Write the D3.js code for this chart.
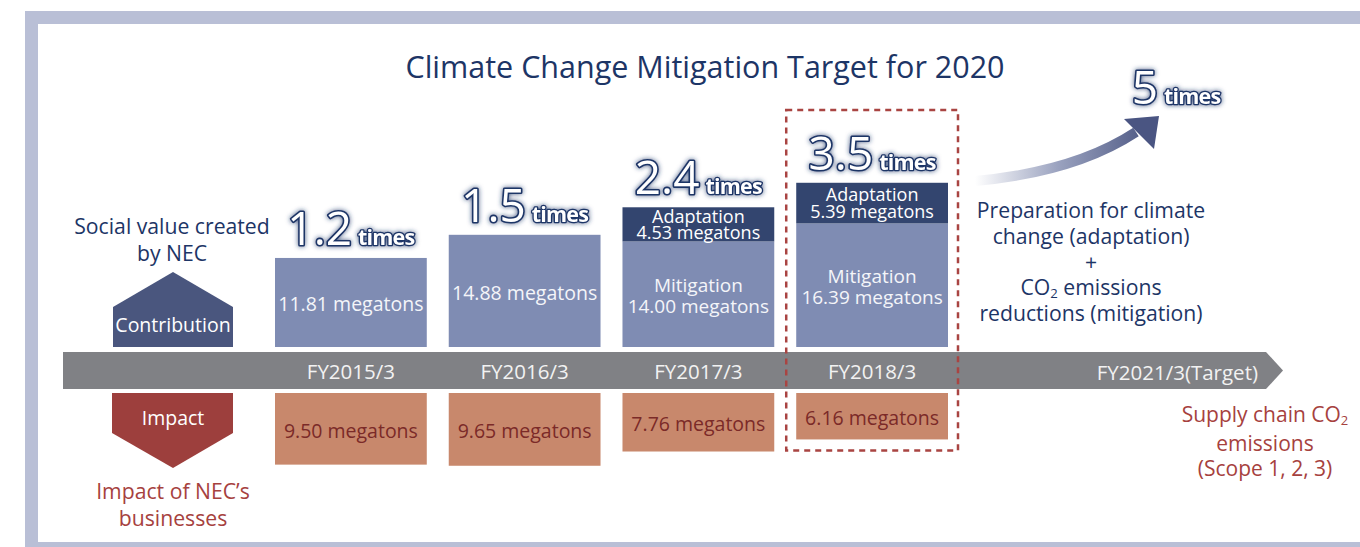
<!DOCTYPE html>
<html>
<head>
<meta charset="utf-8">
<script src="https://cdn.jsdelivr.net/npm/d3@7"></script>
<style>
  body { margin: 0; background: #fff; }
  svg { display: block; font-family: "Open Sans", sans-serif; }
</style>
</head>
<body>
<svg id="chart" width="1360" height="547"></svg>
<script>
// data (megatons)
var periods = ["FY2015/3", "FY2016/3", "FY2017/3", "FY2018/3"];
var mitigation = [11.81, 14.88, 14.00, 16.39];
var adaptation = [0, 0, 4.53, 5.39];
var impact = [9.50, 9.65, 7.76, 6.16];
var targetPeriod = "FY2021/3(Target)";
var targetTimes = 5;

var navy = "#1d3566", red = "#a6413e";

var svg = d3.select("#chart");
var defs = svg.append("defs");

// glow used behind the "x times" figures
var glow = defs.append("filter").attr("id", "glow")
    .attr("x", "-20%").attr("y", "-40%").attr("width", "140%").attr("height", "180%");
glow.append("feGaussianBlur").attr("in", "SourceAlpha").attr("stdDeviation", 2.4).attr("result", "b");
glow.append("feFlood").attr("flood-color", "#1d3466").attr("flood-opacity", 0.8);
glow.append("feComposite").attr("in2", "b").attr("operator", "in").attr("result", "g");
var merge = glow.append("feMerge");
merge.append("feMergeNode").attr("in", "g");
merge.append("feMergeNode").attr("in", "SourceGraphic");

var grad = defs.append("linearGradient").attr("id", "arrowGrad")
    .attr("gradientUnits", "userSpaceOnUse")
    .attr("x1", 975).attr("y1", 0).attr("x2", 1160).attr("y2", 0);
grad.append("stop").attr("offset", 0).attr("stop-color", "#ffffff");
grad.append("stop").attr("offset", 0.45).attr("stop-color", "#9aa2bf");
grad.append("stop").attr("offset", 1).attr("stop-color", "#45507d");

// frame
svg.append("rect").attr("x", 25).attr("y", 11).attr("width", 1400).attr("height", 600).attr("fill", "#b9bfd6");
svg.append("rect").attr("x", 38).attr("y", 24).attr("width", 1400).attr("height", 518).attr("fill", "#fff");

// scales
var x = d3.scaleBand().domain(periods).range([275, 948]).paddingInner(22 / 174).paddingOuter(0);
var y = d3.scaleLinear().domain([0, 20]).range([347, 347 - 20 * 7.54]);
var yi = d3.scaleLinear().domain([0, 10]).range([393, 393 + 10 * 7.54]);

function lines(g, cx, y0, arr, size, lh, color, weight) {
  var t = g.append("text").attr("x", cx).attr("y", y0)
      .attr("text-anchor", "middle").attr("font-size", size).attr("fill", color);
  if (weight) t.attr("font-weight", weight);
  arr.forEach(function(s, i) {
    var parts = s.split("₂");
    t.append("tspan").attr("x", cx).attr("dy", i ? lh : 0).text(parts[0]);
    if (parts.length > 1) {
      t.append("tspan").attr("font-size", size * 0.62).attr("dy", 3).text("2");
      t.append("tspan").attr("dy", -3).text(parts[1]);
    }
  });
  return t;
}
function centered(g, cx, cy, arr, size, lh, color) {
  return lines(g, cx, cy - (arr.length - 1) * lh / 2 + size * 0.36, arr, size, lh, color);
}

// title
svg.append("text").attr("x", 705).attr("y", 78).attr("text-anchor", "middle")
    .attr("font-size", 30.5).attr("fill", navy).text("Climate Change Mitigation Target for 2020");

// timeline band
svg.append("path").attr("fill", "#808185")
    .attr("d", "M63,352 L1266,352 L1283,370.5 L1266,389 L63,389 Z");

// contribution bars
var fmt = d3.format(".2f");
var g = svg.append("g");
periods.forEach(function(p, i) {
  var bx = x(p), bw = x.bandwidth();
  var tot = mitigation[i] + adaptation[i];
  g.append("rect").attr("x", bx).attr("y", y(mitigation[i])).attr("width", bw)
      .attr("height", y(0) - y(mitigation[i])).attr("fill", "#7f8cb3");
  if (adaptation[i] > 0) {
    g.append("rect").attr("x", bx).attr("y", y(tot)).attr("width", bw)
        .attr("height", y(mitigation[i]) - y(tot)).attr("fill", "#33456f");
    centered(g, bx + bw / 2, (y(tot) + y(mitigation[i])) / 2,
        ["Adaptation", fmt(adaptation[i]) + " megatons"], 18, 16.5, "#fff");
    centered(g, bx + bw / 2, (y(mitigation[i]) + y(0)) / 2 + 1.5,
        ["Mitigation", fmt(mitigation[i]) + " megatons"], 19, 21.5, "#f4f5f9");
  } else {
    centered(g, bx + bw / 2, (y(mitigation[i]) + y(0)) / 2 + 2,
        [fmt(mitigation[i]) + " megatons"], 19.5, 0, "#f4f5f9");
  }
  // impact bars
  g.append("rect").attr("x", bx).attr("y", yi(0)).attr("width", bw)
      .attr("height", yi(impact[i]) - yi(0)).attr("fill", "#c8886c");
  centered(g, bx + bw / 2, (yi(0) + yi(impact[i])) / 2 + 2,
      [fmt(impact[i]) + " megatons"], 19.5, 0, "#7b2a28");
  // period label
  g.append("text").attr("x", bx + bw / 2).attr("y", 379).attr("text-anchor", "middle")
      .attr("font-size", 20.5).attr("fill", "#f2f2f2").text(p);
  // x times
  timesLabel(bx + bw / 2, y(tot) - 13, d3.format(".1f")(tot / impact[i]));
});

svg.append("text").attr("x", 1258).attr("y", 380).attr("text-anchor", "end")
    .attr("font-size", 20.5).attr("fill", "#f2f2f2").text(targetPeriod);

function timesLabel(cx, by, num) {
  var t = svg.append("text").attr("x", cx).attr("y", by).attr("text-anchor", "middle")
      .attr("fill", "#fff").attr("stroke", "#1d3466").attr("paint-order", "stroke")
      .attr("stroke-linejoin", "round").attr("filter", "url(#glow)");
  t.append("tspan").attr("font-size", 46).attr("stroke-width", 3.2).text(num);
  t.append("tspan").attr("dx", 6).attr("font-size", 21.5).attr("font-weight", 700)
      .attr("letter-spacing", -0.8).attr("stroke-width", 2.6).text("times");
}

// highlight box around latest year
var hx = x(periods[3]);
svg.append("rect").attr("x", hx - 10).attr("y", 110)
    .attr("width", x.bandwidth() + 20).attr("height", yi(impact[3]) + 11 - 110)
    .attr("fill", "none").attr("stroke", "#a94442").attr("stroke-width", 2.5)
    .attr("stroke-dasharray", "6,5");

// growth arrow to target
svg.append("path").attr("fill", "none").attr("stroke", "url(#arrowGrad)").attr("stroke-width", 10)
    .attr("d", "M975,181 Q1075,172 1136,132");
svg.append("path").attr("fill", "#4a5582")
    .attr("d", "M1124,119 L1159,116 L1154,149 Z");
timesLabel(1176, 104, String(targetTimes));

// left side labels
svg.append("path").attr("fill", "#4a567e")
    .attr("d", "M113,347 L113,307 L173,272 L233,307 L233,347 Z");
svg.append("path").attr("fill", "#9d3f3d")
    .attr("d", "M112,393 L233,393 L233,433 L173,468 L112,433 Z");
lines(svg, 173, 332, ["Contribution"], 19.5, 0, "#fff");
lines(svg, 173, 425, ["Impact"], 19.5, 0, "#fff");
lines(svg, 172, 234, ["Social value created", "by NEC"], 21.2, 27, navy);
lines(svg, 173, 499, ["Impact of NEC’s", "businesses"], 21.2, 27, red);

// right side labels
lines(svg, 1091, 218, ["Preparation for climate", "change (adaptation)", "+", "CO₂ emissions", "reductions (mitigation)"], 21.2, 25.8, navy);
lines(svg, 1265, 422, ["Supply chain CO₂", "emissions", "(Scope 1, 2, 3)"], 21, 25.7, red);
</script>
</body>
</html>
